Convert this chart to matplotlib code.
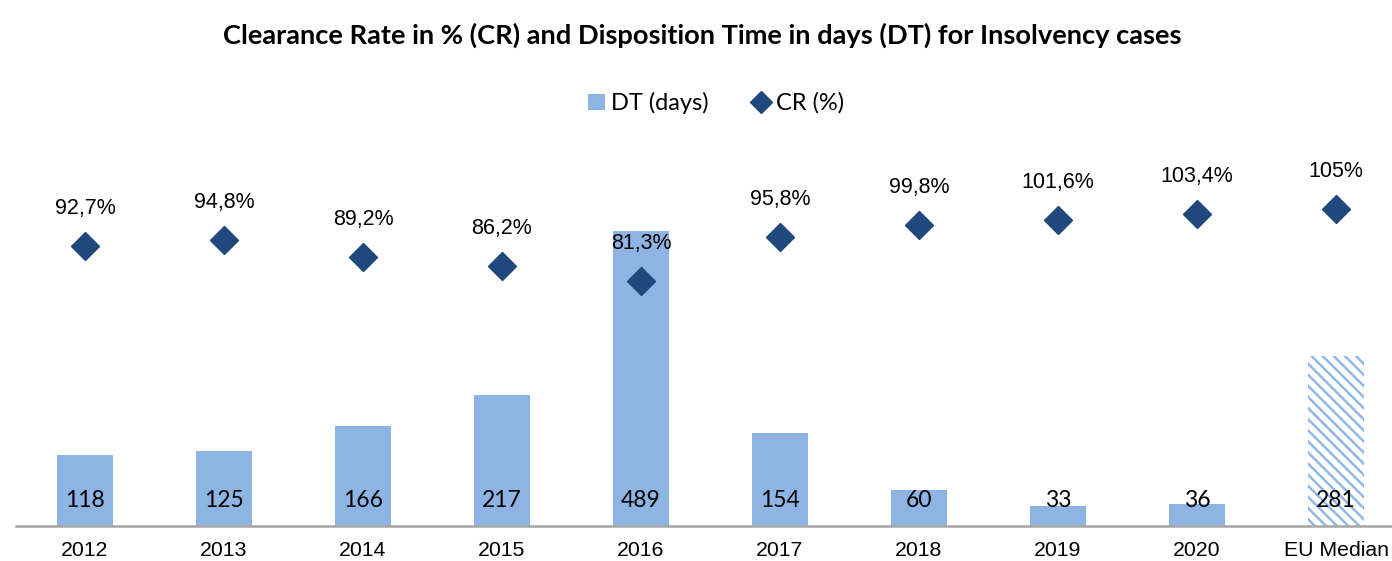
import matplotlib
matplotlib.use("Agg")
import matplotlib.pyplot as plt
from matplotlib.patches import Patch
from matplotlib.lines import Line2D

categories = ["2012", "2013", "2014", "2015", "2016", "2017", "2018", "2019", "2020", "EU Median"]
dt_days = [118, 125, 166, 217, 489, 154, 60, 33, 36, 281]
cr_pct = [92.7, 94.8, 89.2, 86.2, 81.3, 95.8, 99.8, 101.6, 103.4, 105]
cr_labels = ["92,7%", "94,8%", "89,2%", "86,2%", "81,3%", "95,8%", "99,8%", "101,6%", "103,4%", "105%"]

W, H = 1392, 561
fig = plt.figure(figsize=(W / 100, H / 100), dpi=100)
left = 15.5 / W
right = 1405.5 / W
bottom = 1 - 526 / H
top = 1 - 164 / H
ax = fig.add_axes([left, bottom, right - left, top - bottom])
ax2 = ax.twinx()

bar_color = "#8EB4E3"
hatch_color = "#92B8E6"
dia_color = "#1F497D"

x = list(range(len(categories)))
n = len(categories)
ax.bar(x[:-1], dt_days[:-1], width=0.4, color=bar_color, zorder=2)
plt.rcParams['hatch.linewidth'] = 1.8
ax.bar([x[-1]], [dt_days[-1]], width=0.4, facecolor="white", edgecolor=hatch_color,
       hatch="\\\\\\", linewidth=0, zorder=2)

ax.set_xlim(-0.5, n - 0.5)
ax.set_ylim(0, 600)
ax2.set_ylim(0, 120)

for xi, v in zip(x, dt_days):
    ax.text(xi, 42, str(v), ha="center", va="center", fontsize=16.5, family="Lato",
            color="black", zorder=5)

ax2.plot(x, cr_pct, linestyle="none", marker="D", markersize=14.5, color=dia_color, zorder=4)
for xi, v, lab in zip(x, cr_pct, cr_labels):
    ax2.annotate(lab, (xi, v), xytext=(0, 27), textcoords="offset points",
                 ha="center", va="center", fontsize=15.5, family="Liberation Sans")

for a in (ax, ax2):
    for s in ("top", "right", "left"):
        a.spines[s].set_visible(False)
    a.set_yticks([])
ax.spines["bottom"].set_color("#A6A6A6")
ax.spines["bottom"].set_linewidth(1.8)
ax2.spines["bottom"].set_visible(False)

ax.set_xticks(x)
ax.set_xticklabels(categories, fontsize=15.3, family="Liberation Sans")
ax.tick_params(axis="x", length=0, pad=11)

fig.text(702 / W, 1 - 35 / H, "Clearance Rate in % (CR) and Disposition Time in days (DT) for Insolvency cases",
         ha="center", va="center", fontsize=19.6, fontweight="bold", family="Lato")

handles = [Patch(facecolor=bar_color, edgecolor="none"),
           Line2D([], [], linestyle="none", marker="D", markersize=11, color=dia_color)]
fig.legend(handles, ["DT (days)", "CR (%)"], loc="center", bbox_to_anchor=(716 / W, 1 - 103 / H),
           ncol=2, frameon=False, prop={"family": "Lato", "size": 17},
           handlelength=0.7, handletextpad=0.25, columnspacing=1.9)

fig.savefig("out.png", dpi=100)
